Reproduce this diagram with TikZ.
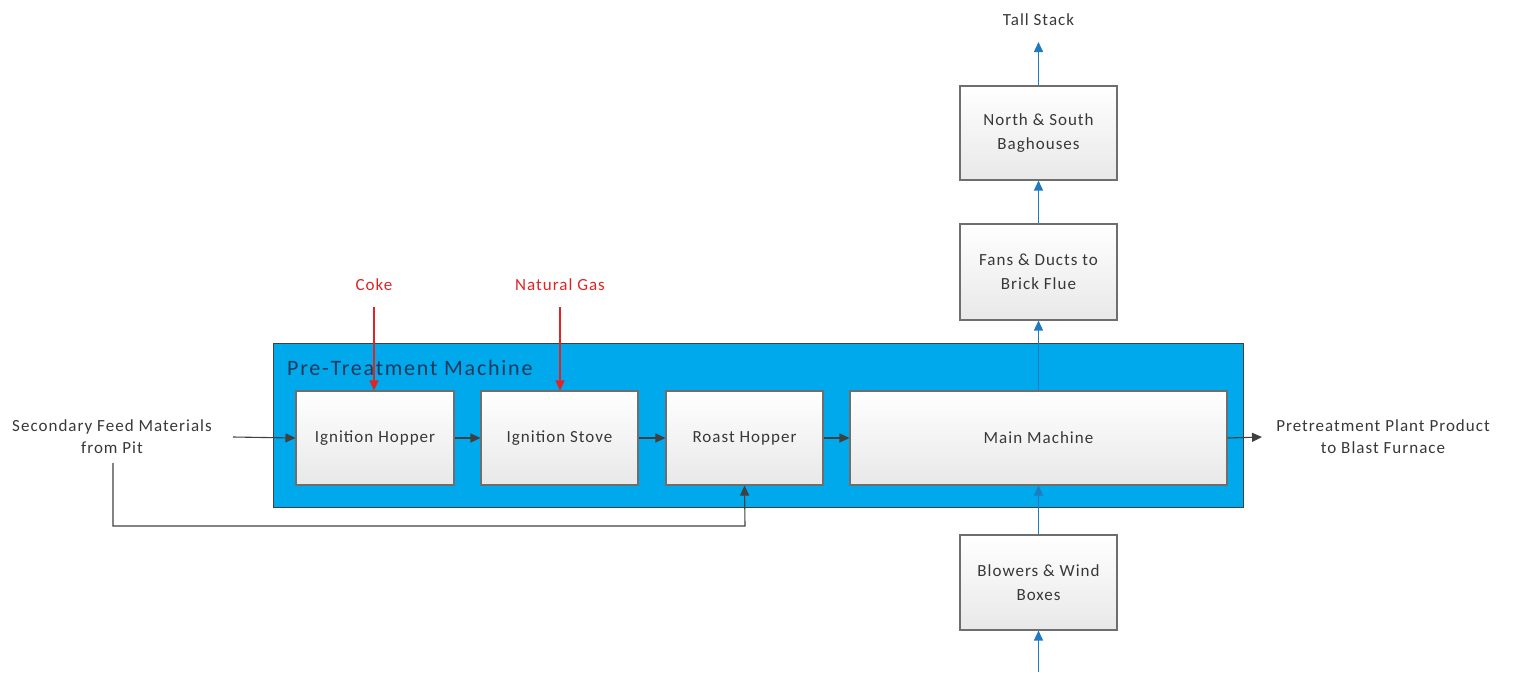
\documentclass[tikz,border=0pt]{standalone}
\usepackage{fontspec}
\setmainfont[LetterSpace=6]{Carlito}
\newfontfamily\titlefont[LetterSpace=8]{Carlito}
\usetikzlibrary{arrows.meta,positioning}
\definecolor{machblue}{HTML}{00A8EC}
\definecolor{flowblue}{HTML}{1F7BC0}
\definecolor{darkline}{HTML}{404040}
\definecolor{boxline}{HTML}{6E6E6E}
\definecolor{txt}{HTML}{383838}
\definecolor{titlecol}{HTML}{1F3A5C}
\definecolor{redflow}{HTML}{E02424}
\tikzset{
  procbox/.style={draw=boxline, line width=1.1pt, top color=white, bottom color=black!9,
    minimum height=94pt, align=center, font=\fontsize{17}{24}\selectfont, text=txt, inner sep=2pt},
  lbl/.style={align=center, font=\fontsize{17}{22}\selectfont, text=txt},
  redlbl/.style={font=\fontsize{17}{20}\selectfont, text=redflow},
  grayarrow/.style={draw=darkline, line width=1.1pt, -{Triangle[length=10pt,width=9pt]}},
  bluearrow/.style={draw=flowblue, line width=1.5pt, -{Triangle[length=10pt,width=9pt]}},
  redarrow/.style={draw=redflow, line width=1.1pt, -{Triangle[length=10pt,width=9pt]}},
}
\begin{document}
\begin{tikzpicture}[x=1pt,y=-1pt]
\useasboundingbox (0,0) rectangle (1515,672);
% machine container
\node[draw=darkline, line width=1pt, fill=machblue, minimum width=970pt, minimum height=164pt, inner sep=0pt] (mach) at (758,425) {};
\node[anchor=base west, font=\titlefont\fontsize{22}{26}\selectfont, text=titlecol, inner sep=0pt] (machlbl) at (287,375) {Pre-Treatment Machine};
% process boxes
\node[procbox, minimum width=158pt] (ih) at (375,438) {Ignition Hopper};
\node[procbox, minimum width=157pt] (is) at (559.5,438) {Ignition Stove};
\node[procbox, minimum width=157pt] (rh) at (744.5,438) {Roast Hopper};
\node[procbox, minimum width=377pt] (mm) at (1038.5,438) {Main Machine};
\node[procbox, minimum width=157pt, minimum height=96pt] (fans) at (1038.5,272) {Fans \& Ducts to\\Brick Flue};
\node[procbox, minimum width=157pt] (ns) at (1038.5,133) {North \& South\\Baghouses};
\node[procbox, minimum width=157pt, minimum height=95pt] (bl) at (1038.5,582.5) {Blowers \& Wind\\Boxes};
% labels
\node[lbl] (feed) at (112,437) {Secondary Feed Materials\\from Pit};
\node[lbl] (prod) at (1383,437) {Pretreatment Plant Product\\to Blast Furnace};
\node[font=\fontsize{17}{20}\selectfont, text=txt] (stack) at (1038.5,20) {Tall Stack};
\node[redlbl] (coke) at (374,285) {Coke};
\node[redlbl] (gas) at (560,285) {Natural Gas};
% free ends
\coordinate (feedin) at (233,437);
\coordinate (feeddown) at (113,463);
\coordinate (loop1) at (113,526);
\coordinate (loop2) at (745,526);
\coordinate (prodend) at (1262,437);
\coordinate (stackend) at (1038.5,42);
\coordinate (cokestart) at (374,307);
\coordinate (gasstart) at (560,307);
\coordinate (blowin) at (1038.5,672);
% gray flows
\draw[grayarrow] (feedin) -- (ih.west);
\draw[grayarrow] (ih.east) -- (is.west);
\draw[grayarrow] (is.east) -- (rh.west);
\draw[grayarrow] (rh.east) -- (mm.west);
\draw[grayarrow] (mm.east) -- (prodend);
\draw[grayarrow] (feeddown) -- (loop1) -- (loop2) -- (rh.south);
% red flows
\draw[redarrow] (cokestart) -- (cokestart |- ih.north);
\draw[redarrow] (gasstart) -- (gasstart |- is.north);
% blue flows
\draw[bluearrow] (blowin) -- (bl.south);
\draw[bluearrow] (bl.north) -- (mm.south);
\draw[bluearrow] (mm.north) -- (fans.south);
\draw[bluearrow] (fans.north) -- (ns.south);
\draw[bluearrow] (ns.north) -- (stackend);
\end{tikzpicture}
\end{document}
